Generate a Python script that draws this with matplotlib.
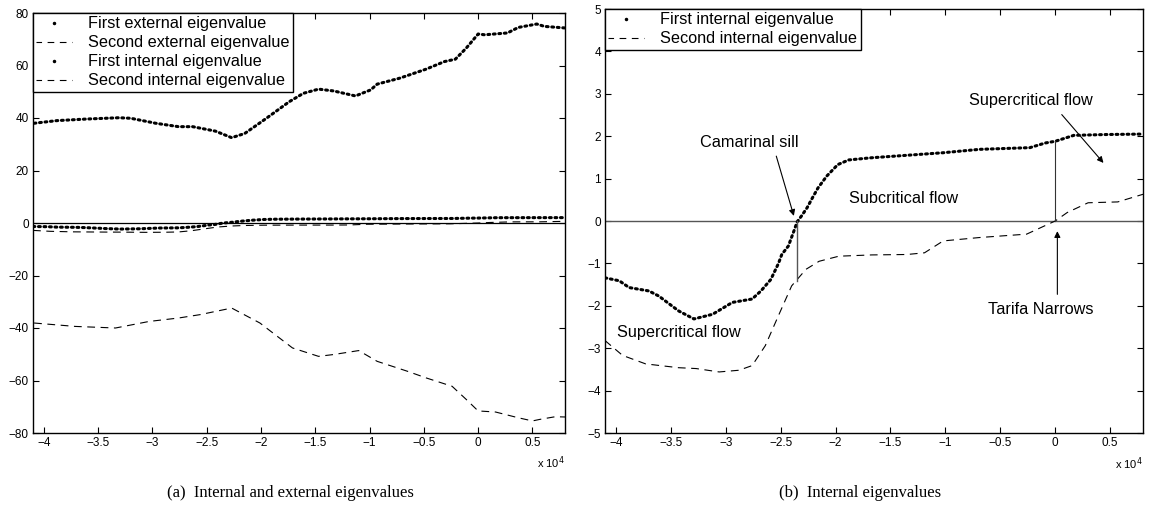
import matplotlib
matplotlib.use("Agg")
import matplotlib.pyplot as plt
from matplotlib.lines import Line2D
from matplotlib.ticker import FuncFormatter

plt.rcParams['font.family'] = ['Liberation Sans', 'DejaVu Sans']

# distance along the strait (m)
x_ext = [-40900, -38800, -36100, -33100, -32000, -29700, -27600, -26300, -24200,
         -22700, -21500, -19500, -17400, -16100, -14700, -13300, -11300, -9900,
         -9300, -7200, -4800, -3100, -2100, -1100, 0, 600, 2700, 3700, 5400,
         6100, 8000]
ext1 = [38.0, 39.0, 39.6, 40.1, 39.9, 38.0, 36.7, 36.7, 35.0, 32.5, 34.1, 39.9,
        46.2, 49.4, 51.0, 50.3, 48.4, 50.7, 52.9, 55.2, 58.6, 61.5, 62.4, 66.6,
        72.0, 71.7, 72.4, 74.5, 75.8, 74.9, 74.3]

x_ext2 = [-40900, -37100, -33400, -30300, -27600, -25600, -22700, -20100, -17100,
          -14700, -13300, -11000, -9300, -6500, -4800, -2400, -1100, 0, 1600,
          3700, 5000, 5700, 7100, 8000]
ext2 = [-38.1, -39.4, -40.0, -37.5, -36.2, -34.9, -32.4, -38.1, -47.6, -50.8,
        -50.1, -48.6, -52.7, -56.5, -59.0, -62.2, -67.2, -71.6, -72.0, -74.2,
        -75.4, -74.8, -73.8, -73.9]

x_int1 = [-41000, -39700, -38800, -37000, -36100, -34300, -32900, -31200, -29400,
          -27600, -26800, -25900, -25200, -24900, -24300, -23800, -23500, -23100,
          -22600, -22100, -21600, -20800, -19800, -18800, -16800, -13500, -10200,
          -6900, -2300, -900, 0, 1700, 4700, 8000]
int1 = [-1.34, -1.41, -1.57, -1.65, -1.77, -2.12, -2.31, -2.20, -1.92, -1.84,
        -1.65, -1.38, -1.00, -0.79, -0.59, -0.24, -0.02, 0.12, 0.31, 0.55, 0.78,
        1.06, 1.33, 1.44, 1.49, 1.55, 1.61, 1.69, 1.73, 1.84, 1.88, 2.02, 2.04,
        2.05]

x_int2 = [-41000, -39400, -37300, -34300, -32700, -30600, -28800, -27600, -26400,
          -25200, -24000, -22700, -21500, -19700, -16700, -13500, -11900, -10200,
          -6900, -2600, 0, 1100, 3000, 5700, 8000]
int2 = [-2.82, -3.17, -3.37, -3.46, -3.48, -3.56, -3.52, -3.41, -2.94, -2.23,
        -1.53, -1.14, -0.95, -0.83, -0.80, -0.79, -0.75, -0.47, -0.39, -0.31, 0.0,
        0.20, 0.43, 0.45, 0.63]

xticks = [-40000, -35000, -30000, -25000, -20000, -15000, -10000, -5000, 0, 5000]
xlim = (-41000, 8000)

sill_x = -23500
sill_bottom = -1.42
tarifa_x = 0
tarifa_top = 1.88

FS = 11.7

dot_style = dict(color='k', linestyle=(0, (0.6, 1.2)), linewidth=2.2,
                 dash_capstyle='round')
dash_style = dict(color='k', linestyle=(0, (7, 5)), linewidth=0.8)


def fmt(v, pos):
    s = '%g' % (v / 1e4)
    return s.replace('-', '\u2212')


def style_axes(ax):
    ax.set_xlim(*xlim)
    ax.set_xticks(xticks)
    ax.xaxis.set_major_formatter(FuncFormatter(fmt))
    ax.tick_params(direction='in', top=True, right=True, length=4,
                   width=0.8, labelsize=8.5, pad=3)
    for sp in ax.spines.values():
        sp.set_linewidth(1.0)
    ax.text(1.0, -0.052, r'x 10$^{4}$', transform=ax.transAxes,
            ha='right', va='top', fontsize=8)


def make_legend(ax, handles, labels):
    leg = ax.legend(handles, labels, loc='upper left', bbox_to_anchor=(0, 1),
                    borderaxespad=0, fontsize=FS, handlelength=2.2,
                    handletextpad=1.0, labelspacing=0.25, borderpad=0.2,
                    fancybox=False, framealpha=1, edgecolor='k')
    leg.get_frame().set_linewidth(1.0)
    return leg


fig = plt.figure(figsize=(11.5, 5.12), dpi=100)
ax1 = fig.add_axes([33 / 1150, 79 / 512, 532 / 1150, 420 / 512])
ax2 = fig.add_axes([605 / 1150, 79 / 512, 538 / 1150, 424 / 512])

# (a) internal and external eigenvalues
ax1.axhline(0, color='k', lw=0.9)
ax1.plot(x_ext, ext1, **dot_style)
ax1.plot(x_ext2, ext2, **dash_style)
ax1.plot(x_int1, int1, **dot_style)
ax1.plot(x_int2, int2, **dash_style)
ax1.set_ylim(-80, 80)
ax1.set_yticks(range(-80, 81, 20))
style_axes(ax1)

dot_h = Line2D([], [], color='k', marker='.', linestyle='none', markersize=3)
dash_h = Line2D([], [], color='k', linestyle=(1, (6, 5)), linewidth=0.8)
make_legend(ax1, [dot_h, dash_h, dot_h, dash_h],
            ['First external eigenvalue', 'Second external eigenvalue',
             'First internal eigenvalue', 'Second internal eigenvalue'])

# (b) internal eigenvalues
ax2.axhline(0, color='#555555', lw=1.0)
ax2.plot(x_int1, int1, **dot_style)
ax2.plot(x_int2, int2, **dash_style)
ax2.plot([sill_x, sill_x], [0, sill_bottom], color='#555555', lw=1.0)
ax2.plot([tarifa_x, tarifa_x], [0, tarifa_top], color='#333333', lw=0.8)
ax2.set_ylim(-5, 5)
ax2.set_yticks(range(-5, 6))
style_axes(ax2)

make_legend(ax2, [dot_h, dash_h],
            ['First internal eigenvalue', 'Second internal eigenvalue'])

arrow = dict(arrowstyle='-|>', color='k', lw=0.8, mutation_scale=9,
             shrinkA=0, shrinkB=0)
ax2.annotate('', xy=(-23800, 0.12), xytext=(-25400, 1.53), arrowprops=arrow)
ax2.text(-27900, 1.84, 'Camarinal sill', ha='center', va='center', fontsize=FS)
ax2.text(-13800, 0.53, 'Subcritical flow', ha='center', va='center', fontsize=FS)
ax2.annotate('', xy=(4400, 1.37), xytext=(600, 2.51), arrowprops=arrow)
ax2.text(-2200, 2.85, 'Supercritical flow', ha='center', va='center', fontsize=FS)
ax2.annotate('', xy=(200, -0.24), xytext=(200, -1.73), arrowprops=arrow)
ax2.text(-1300, -2.09, 'Tarifa Narrows', ha='center', va='center', fontsize=FS)
ax2.text(-34300, -2.63, 'Supercritical flow', ha='center', va='center', fontsize=FS)

fig.text(290 / 1150, 19 / 512, '(a)  Internal and external eigenvalues',
         ha='center', va='center', fontsize=12, family='Liberation Serif')
fig.text(860 / 1150, 19 / 512, '(b)  Internal eigenvalues',
         ha='center', va='center', fontsize=12, family='Liberation Serif')

fig.savefig('out.png', dpi=100)
